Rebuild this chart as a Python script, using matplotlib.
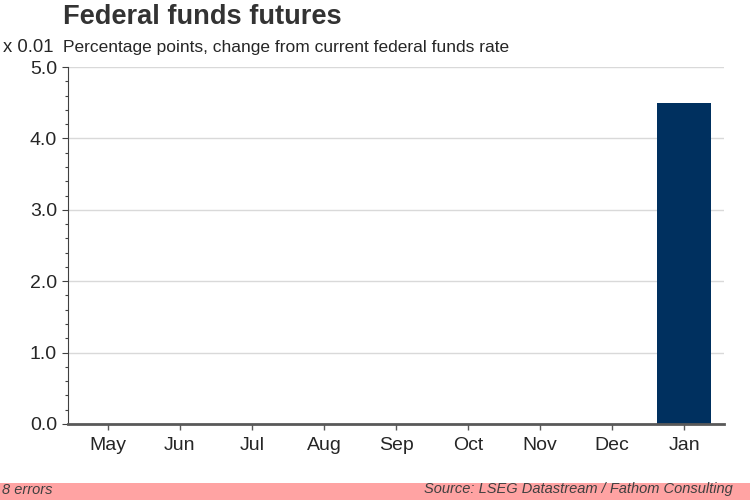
import numpy as np
import matplotlib.pyplot as plt
import matplotlib.patches as mpatches
from matplotlib.ticker import MultipleLocator

plt.rcParams['font.family'] = ['Liberation Sans', 'DejaVu Sans']

months = ["May", "Jun", "Jul", "Aug", "Sep", "Oct", "Nov", "Dec", "Jan"]
change = [0.0, 0.0, 0.0, 0.0, 0.0, 0.0, 0.0, 0.0, 4.5]  # x 0.01 percentage points
yticks = [0.0, 1.0, 2.0, 3.0, 4.0, 5.0]

fig = plt.figure(figsize=(7.5, 5), dpi=100)
ax = fig.add_axes([0.0907, 0.152, 0.8746, 0.714])

x = np.arange(len(months))
ax.bar(x, change, width=0.75, color="#00305f", zorder=3)

ax.set_xlim(-0.55, len(months) - 0.45)
ax.set_ylim(0, 5)
ax.set_yticks(yticks)
ax.set_yticklabels(["%.1f" % v for v in yticks])
ax.yaxis.set_minor_locator(MultipleLocator(0.2))
ax.set_xticks(x)
ax.set_xticklabels(months)
ax.grid(axis="y", which="major", color="#d9d9d9", linewidth=1, zorder=0)

for s in ["top", "right"]:
    ax.spines[s].set_visible(False)
ax.spines["left"].set_color("#404040")
ax.spines["left"].set_linewidth(0.8)
ax.spines["bottom"].set_color("#595959")
ax.spines["bottom"].set_linewidth(2)
ax.spines["bottom"].set_zorder(4)
ax.tick_params(axis="y", which="major", length=4, width=0.8, color="#404040",
               labelsize=14, labelcolor="#262626", pad=4)
ax.tick_params(axis="y", which="minor", length=2.5, width=0.8, color="#404040")
ax.tick_params(axis="x", length=4, width=1, color="#595959", labelsize=14,
               labelcolor="#262626", pad=5)

fig.text(0.084, 0.965, "Federal funds futures", fontsize=19.6, fontweight="bold",
         color="#333333", va="center", ha="left")
fig.text(0.084, 0.905, "Percentage points, change from current federal funds rate",
         fontsize=12.5, color="#262626", va="center", ha="left")
fig.text(0.004, 0.905, "x 0.01", fontsize=13.3, color="#262626", va="center", ha="left")

# pink strip at the bottom
fig.patches.append(mpatches.Rectangle((0, 0), 1, 0.034, transform=fig.transFigure,
                                      facecolor="#ffa3a3", edgecolor="none"))
fig.text(0.003, 0.019, "8 errors", fontsize=10.5, style="italic", color="#404040",
         va="center", ha="left")
fig.text(0.977, 0.021, "Source: LSEG Datastream / Fathom Consulting", fontsize=10.5,
         style="italic", color="#404040", va="center", ha="right")

fig.savefig("out.png", dpi=100)
